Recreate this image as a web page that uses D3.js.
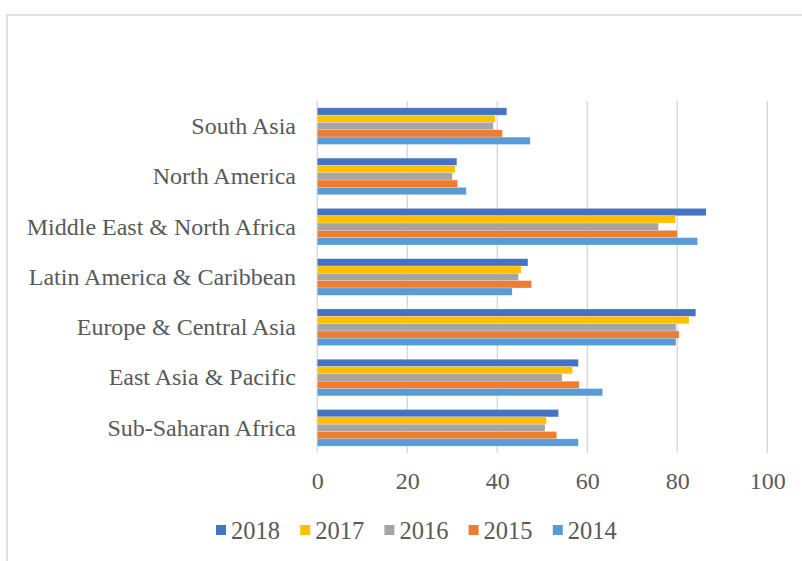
<!DOCTYPE html>
<html>
<head>
<meta charset="utf-8">
<script src="https://cdn.jsdelivr.net/npm/d3@7"></script>
<style>
  body { margin: 0; background: #fff; }
  svg text { font-family: "Liberation Serif", "Times New Roman", serif; fill: #595959; }
</style>
</head>
<body>
<div id="chart"></div>
<script>
var regions = ['South Asia', 'North America', 'Middle East & North Africa',
  'Latin America & Caribbean', 'Europe & Central Asia', 'East Asia & Pacific', 'Sub-Saharan Africa']
var years = ['2018', '2017', '2016', '2015', '2014']
var colors = ['#4472C4', '#FFC000', '#A5A5A5', '#ED7D31', '#5B9BD5']
var xTicks = [0, 20, 40, 60, 80, 100]

// one array per year, same order as regions
var v2018 = [42.1, 31.0, 86.4, 46.8, 84.1, 58.0, 53.6]
var v2017 = [39.5, 30.6, 79.6, 45.3, 82.6, 56.7, 50.9]
var v2016 = [39.1, 30.0, 75.8, 44.7, 79.7, 54.4, 50.6]
var v2015 = [41.1, 31.2, 80.0, 47.6, 80.4, 58.2, 53.2]
var v2014 = [47.3, 33.1, 84.5, 43.3, 79.7, 63.4, 58.0]
var series = [v2018, v2017, v2016, v2015, v2014]

var W = 802, H = 561
var plotLeft = 317.3, plotRight = 767.3, plotTop = 101, plotBottom = 453

var svg = d3.select('#chart').append('svg').attr('width', W).attr('height', H)

// chart border
svg.append('rect')
  .attr('x', 7).attr('y', 15)
  .attr('width', W).attr('height', H)
  .attr('fill', 'none').attr('stroke', '#d9d9d9').attr('stroke-width', 1.5)

var x = d3.scaleLinear().domain([0, 100]).range([plotLeft, plotRight])
var y = d3.scaleBand().domain(regions).range([plotTop, plotBottom])
  .paddingInner(0.272).paddingOuter(0.136)
var yInner = d3.scaleBand().domain(years).range([0, y.bandwidth()])

// gridlines
svg.append('g').selectAll('line').data(xTicks).enter()
  .append('line')
  .attr('x1', function(d){ return x(d) }).attr('x2', function(d){ return x(d) })
  .attr('y1', plotTop).attr('y2', plotBottom)
  .attr('stroke', '#d9d9d9').attr('stroke-width', 1.5)

// bars
series.forEach(function(vals, si){
  svg.append('g').selectAll('rect').data(vals).enter()
    .append('rect')
    .attr('x', x(0))
    .attr('y', function(d, i){ return y(regions[i]) + yInner(years[si]) })
    .attr('width', function(d){ return x(d) - x(0) })
    .attr('height', yInner.bandwidth())
    .attr('fill', colors[si])
    .attr('stroke', '#ffffff').attr('stroke-opacity', 0.35).attr('stroke-width', 0.6)
})

// category labels
svg.append('g').selectAll('text').data(regions).enter()
  .append('text')
  .attr('x', 296)
  .attr('y', function(d){ return y(d) + y.bandwidth() / 2 })
  .attr('dy', '0.33em')
  .attr('text-anchor', 'end')
  .attr('font-size', 24)
  .text(function(d){ return d })

// x tick labels
var xAxis = d3.axisBottom(x).tickValues(xTicks).tickSize(0).tickPadding(0)
var ax = svg.append('g').attr('transform', 'translate(0,' + 489 + ')').call(xAxis)
ax.select('.domain').remove()
ax.selectAll('text').attr('dy', 0).attr('font-size', 24)
  .attr('font-family', '"Liberation Serif", "Times New Roman", serif').attr('fill', '#595959')

// legend
var legend = svg.append('g').selectAll('g').data(years).enter()
  .append('g')
  .attr('transform', function(d, i){ return 'translate(' + (216 + i * 84.2) + ',0)' })
legend.append('rect')
  .attr('x', 0).attr('y', 525)
  .attr('width', 10).attr('height', 10)
  .attr('fill', function(d, i){ return colors[i] })
legend.append('text')
  .attr('x', 15).attr('y', 539)
  .attr('font-size', 24.5)
  .text(function(d){ return d })
</script>
</body>
</html>
